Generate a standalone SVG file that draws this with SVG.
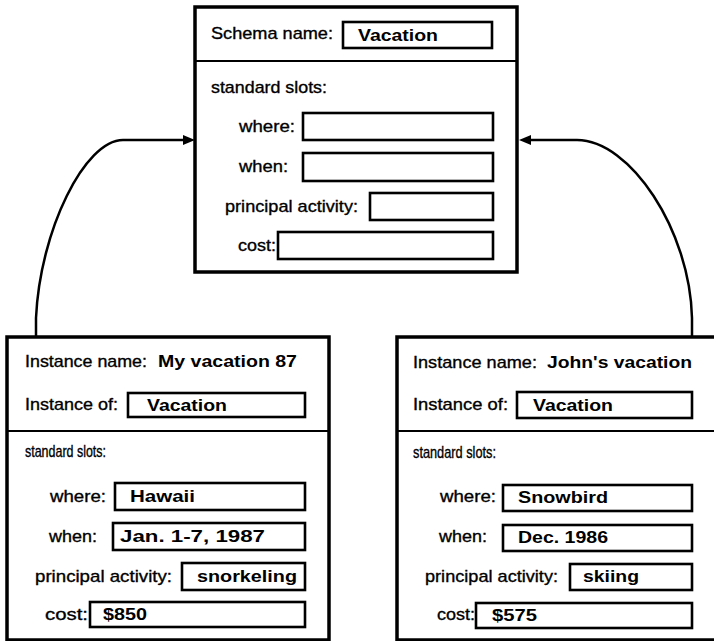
<svg xmlns="http://www.w3.org/2000/svg" width="714" height="641" viewBox="0 0 714 641">
<style>
.frame{fill:#fff;stroke:#000;stroke-width:3.5}
.div{stroke:#000;stroke-width:2.2}
.field{fill:#fff;stroke:#000;stroke-width:2.6}
.lbl{font-family:"Liberation Sans",Arial,sans-serif;font-size:17px;fill:#000;stroke:#000;stroke-width:0.35}
.val{font-family:"Liberation Sans",Arial,sans-serif;font-size:17px;font-weight:bold;fill:#000}
.conn{fill:none;stroke:#000;stroke-width:2.5}
</style>
<defs>
<marker id="arr" markerUnits="userSpaceOnUse" markerWidth="14" markerHeight="12" refX="7" refY="5" orient="auto">
<path d="M0,0 L12,5 L0,10 z" fill="#000"/>
</marker>
</defs>
<rect width="714" height="641" fill="#fff"/>
<g id="connectors">
<path class="conn" d="M36,337 V318 C40,230 85,140 123,140 H190" marker-end="url(#arr)"/>
<path class="conn" d="M692,337 V318 C690,230 630,140 577,140 H524" marker-end="url(#arr)"/>
</g>
<g id="schema">
<rect class="frame" x="195" y="7" width="322" height="265"/>
<line class="div" x1="195" y1="61" x2="517" y2="61"/>
<text class="lbl" x="211" y="39" textLength="122" lengthAdjust="spacingAndGlyphs">Schema name:</text>
<rect class="field" x="343" y="22" width="149" height="26"/>
<text class="val" x="358" y="41" textLength="80" lengthAdjust="spacingAndGlyphs">Vacation</text>
<text class="lbl" x="211" y="93" textLength="116" lengthAdjust="spacingAndGlyphs">standard slots:</text>
<text class="lbl" x="239" y="132" textLength="56" lengthAdjust="spacingAndGlyphs">where:</text>
<rect class="field" x="303" y="113" width="190" height="27"/>
<text class="lbl" x="239" y="172" textLength="49" lengthAdjust="spacingAndGlyphs">when:</text>
<rect class="field" x="303" y="153" width="190" height="28"/>
<text class="lbl" x="225" y="212" textLength="133" lengthAdjust="spacingAndGlyphs">principal activity:</text>
<rect class="field" x="370" y="193" width="123" height="27"/>
<text class="lbl" x="238" y="251" textLength="38" lengthAdjust="spacingAndGlyphs">cost:</text>
<rect class="field" x="278" y="232" width="215" height="27"/>
</g>
<g id="instance1">
<rect class="frame" x="7" y="337" width="322" height="303"/>
<line class="div" x1="7" y1="431" x2="329" y2="431"/>
<text class="lbl" x="25" y="367" textLength="122" lengthAdjust="spacingAndGlyphs">Instance name:</text>
<text class="val" x="158" y="367" textLength="139" lengthAdjust="spacingAndGlyphs">My vacation 87</text>
<text class="lbl" x="25" y="410" textLength="93" lengthAdjust="spacingAndGlyphs">Instance of:</text>
<rect class="field" x="128" y="393" width="177" height="24"/>
<text class="val" x="147" y="411" textLength="80" lengthAdjust="spacingAndGlyphs">Vacation</text>
<text class="lbl" x="25" y="457" textLength="81" lengthAdjust="spacingAndGlyphs">standard slots:</text>
<text class="lbl" x="50" y="502" textLength="56" lengthAdjust="spacingAndGlyphs">where:</text>
<rect class="field" x="115" y="483" width="190" height="27"/>
<text class="val" x="130" y="502" textLength="65" lengthAdjust="spacingAndGlyphs">Hawaii</text>
<text class="lbl" x="49" y="542" textLength="48" lengthAdjust="spacingAndGlyphs">when:</text>
<rect class="field" x="113" y="523" width="192" height="27"/>
<text class="val" x="120" y="542" textLength="145" lengthAdjust="spacingAndGlyphs">Jan. 1-7, 1987</text>
<text class="lbl" x="35" y="582" textLength="137" lengthAdjust="spacingAndGlyphs">principal activity:</text>
<rect class="field" x="182" y="563" width="123" height="27"/>
<text class="val" x="197" y="582" textLength="100" lengthAdjust="spacingAndGlyphs">snorkeling</text>
<text class="lbl" x="45" y="620" textLength="43" lengthAdjust="spacingAndGlyphs">cost:</text>
<rect class="field" x="90" y="602" width="215" height="25"/>
<text class="val" x="103" y="620" textLength="44" lengthAdjust="spacingAndGlyphs">$850</text>
</g>
<g id="instance2">
<rect class="frame" x="397" y="337" width="322" height="303"/>
<line class="div" x1="397" y1="431" x2="719" y2="431"/>
<text class="lbl" x="413" y="368" textLength="124" lengthAdjust="spacingAndGlyphs">Instance name:</text>
<text class="val" x="547" y="368" textLength="145" lengthAdjust="spacingAndGlyphs">John's  vacation</text>
<text class="lbl" x="413" y="410" textLength="95" lengthAdjust="spacingAndGlyphs">Instance of:</text>
<rect class="field" x="517" y="392" width="175" height="26"/>
<text class="val" x="533" y="411" textLength="80" lengthAdjust="spacingAndGlyphs">Vacation</text>
<text class="lbl" x="413" y="458" textLength="83" lengthAdjust="spacingAndGlyphs">standard slots:</text>
<text class="lbl" x="440" y="502" textLength="56" lengthAdjust="spacingAndGlyphs">where:</text>
<rect class="field" x="503" y="485" width="189" height="26"/>
<text class="val" x="518" y="503" textLength="90" lengthAdjust="spacingAndGlyphs">Snowbird</text>
<text class="lbl" x="439" y="542" textLength="48" lengthAdjust="spacingAndGlyphs">when:</text>
<rect class="field" x="503" y="525" width="189" height="26"/>
<text class="val" x="518" y="543" textLength="90" lengthAdjust="spacingAndGlyphs">Dec. 1986</text>
<text class="lbl" x="425" y="582" textLength="133" lengthAdjust="spacingAndGlyphs">principal activity:</text>
<rect class="field" x="570" y="564" width="122" height="26"/>
<text class="val" x="583" y="582" textLength="56" lengthAdjust="spacingAndGlyphs">skiing</text>
<text class="lbl" x="437" y="620" textLength="38" lengthAdjust="spacingAndGlyphs">cost:</text>
<rect class="field" x="476" y="603" width="216" height="25"/>
<text class="val" x="492" y="621" textLength="45" lengthAdjust="spacingAndGlyphs">$575</text>
</g>
</svg>
